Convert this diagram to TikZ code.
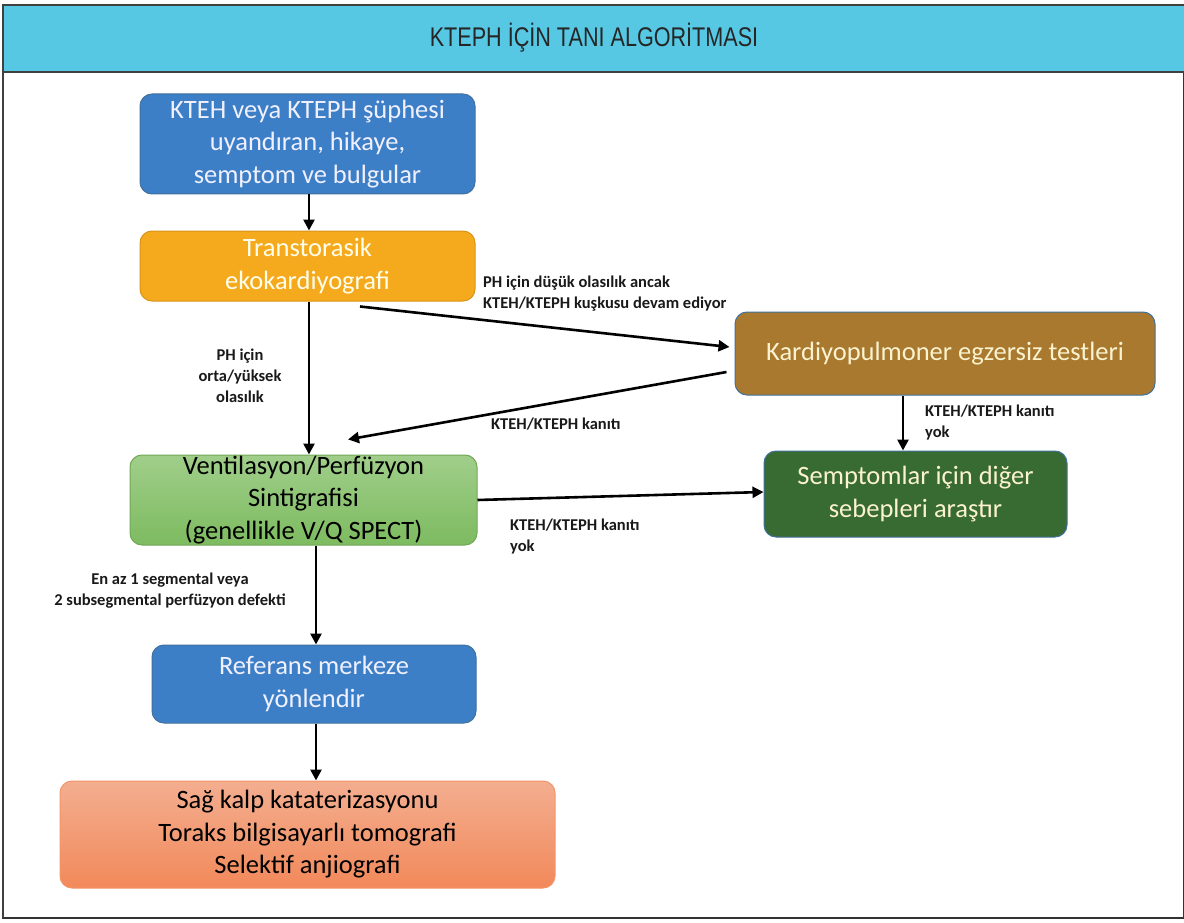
\documentclass[tikz,border=0pt]{standalone}
\usepackage{fontspec}
\setmainfont{Carlito}
\newfontfamily\titlefont[FakeStretch=0.8]{Liberation Sans}
\usetikzlibrary{arrows.meta,calc}

\definecolor{band}{HTML}{56C8E3}
\definecolor{bluebox}{HTML}{3D7FC6}
\definecolor{blueedge}{HTML}{41719C}
\definecolor{orangebox}{HTML}{F5AA1E}
\definecolor{orangeedge}{HTML}{D9941A}
\definecolor{brownbox}{HTML}{A8792E}
\definecolor{darkgreen}{HTML}{386B31}
\definecolor{creamtext}{HTML}{FBF3CF}
\definecolor{greentop}{HTML}{A0CE8A}
\definecolor{greenbot}{HTML}{7DBB60}
\definecolor{salmontop}{HTML}{F3AE90}
\definecolor{salmonbot}{HTML}{F2895A}

\tikzset{
  flowbox/.style={rectangle, rounded corners=12pt, align=center,
    font=\fontsize{26.5}{32.5}\selectfont, inner sep=0pt, line width=1pt},
  edgelabel/.style={font=\bfseries\fontsize{16.5}{21}\selectfont, inner sep=0pt, text=black!90},
  flowarrow/.style={line width=2.6pt, -{Triangle[length=11pt,width=11pt]}}
}

\begin{document}
\begin{tikzpicture}[x=1pt,y=-1pt]
\useasboundingbox (0,0) rectangle (1184,923);
\fill[white] (0,0) rectangle (1184,923);

% outer frame and title band
\draw[line width=1.2pt, black!80] (3,5) rectangle (1183.5,918);
\fill[band] (3,5) rectangle (1183.5,72);
\draw[line width=2pt, black!75] (3,5) -- (1183.5,5);
\draw[line width=1.5pt, black!75] (3,72) -- (1183.5,72);
\draw[line width=1.2pt, black!75] (3,5) -- (3,918);
\node[font=\titlefont\fontsize{27}{30}\selectfont, text=black!85] (title) at (594,38) {KTEPH İÇİN TANI ALGORİTMASI};

% boxes
\node[flowbox, fill=bluebox, draw=blueedge, text=white!94!blue,
      minimum width=335pt, minimum height=100pt] (b1) at (307.5,144)
  {KTEH veya KTEPH şüphesi\\uyandıran, hikaye,\\semptom ve bulgular};
\node[flowbox, fill=orangebox, draw=orangeedge, text=white!92!yellow,
      minimum width=335pt, minimum height=70pt] (b2) at (307.5,266)
  {Transtorasik\\ekokardiyografi};
\node[flowbox, fill=brownbox, draw=blueedge, text=creamtext,
      minimum width=420pt, minimum height=83pt] (b3) at (945,353.5)
  {Kardiyopulmoner egzersiz testleri};
\node[flowbox, fill=darkgreen, draw=blueedge, text=creamtext,
      minimum width=303pt, minimum height=86pt] (b4) at (915.5,494)
  {Semptomlar için diğer\\sebepleri araştır};
\node[flowbox, top color=greentop, bottom color=greenbot, draw=greenbot!90!black,
      text=black, minimum width=347pt, minimum height=90pt] (b5) at (303.5,500)
  {Ventilasyon/Perfüzyon\\Sintigrafisi\\(genellikle V/Q SPECT)};
\node[flowbox, fill=bluebox, draw=blueedge, text=white!94!blue,
      minimum width=324pt, minimum height=78pt] (b6) at (314,684)
  {Referans merkeze\\yönlendir};
\node[flowbox, top color=salmontop, bottom color=salmonbot, draw=salmonbot!90!white,
      text=black, minimum width=495pt, minimum height=107pt] (b7) at (307.5,834.5)
  {Sağ kalp kataterizasyonu\\Toraks bilgisayarlı tomografi\\Selektif anjiografi};

% connectors
\draw[flowarrow] ([xshift=1.5pt]b1.south) -- ([xshift=1.5pt]b2.north);
\draw[flowarrow] ([xshift=1.5pt]b2.south) -- ([xshift=1.5pt]b2.south |- b5.north);
\draw[flowarrow] ([xshift=52.5pt,yshift=-5pt]b2.south) -- ([xshift=-5pt,yshift=6.5pt]b3.west);
\draw[flowarrow] ([xshift=-8pt,yshift=-18.5pt]b3.west) -- ([xshift=44.5pt,yshift=15pt]b5.north);
\draw[flowarrow] ([xshift=-42pt]b3.south) -- ([xshift=-42pt]b3.south |- b4.north);
\draw[flowarrow] (b5.east) -- ([yshift=2pt]b4.west);
\draw[flowarrow] ([xshift=2pt]b6.north |- b5.south) -- ([xshift=2pt]b6.north);
\draw[flowarrow] ([xshift=2pt]b6.south) -- ([xshift=2pt]b6.south |- b7.north);

% connector labels
\node[edgelabel, align=center] (l1) at (240,376) {PH için\\orta/yüksek\\olasılık};
\node[edgelabel, align=left, anchor=west] (l2) at (483,294) {PH için düşük olasılık ancak\\KTEH/KTEPH kuşkusu devam ediyor};
\node[edgelabel, anchor=west] (l3) at (491,424) {KTEH/KTEPH kanıtı};
\node[edgelabel, align=left, anchor=west] (l4) at (925,423) {KTEH/KTEPH kanıtı\\yok};
\node[edgelabel, align=left, anchor=west] (l5) at (510,537) {KTEH/KTEPH kanıtı\\yok};
\node[edgelabel, align=center] (l6) at (170,591) {En az 1 segmental veya\\2 subsegmental perfüzyon defekti};
\end{tikzpicture}
\end{document}
